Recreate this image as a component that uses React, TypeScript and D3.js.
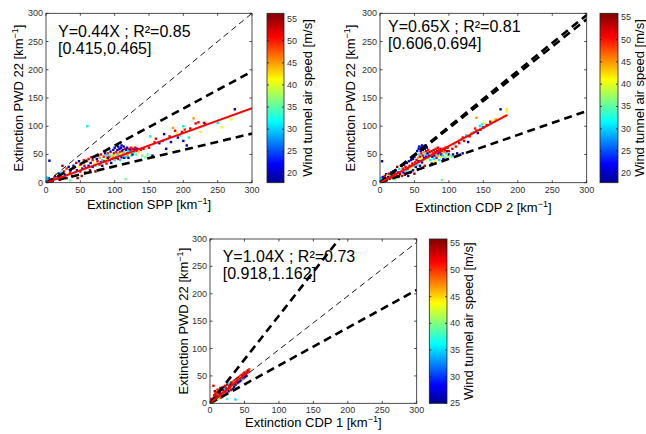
import React from "react";
import * as d3 from "d3";

// axis ticks (km^-1) and colour bar ticks (m/s)
const axisTicks = [0, 50, 100, 150, 200, 250, 300];
const speedTicksA = [20, 25, 30, 35, 40, 45, 50, 55];
const speedTicksB = [25, 30, 35, 40, 45, 50, 55];

// points: [extinction x, extinction PWD 22, wind tunnel air speed]
const sppPoints: number[][] = [
  [1, 3, 20], [2, 5, 22], [3, 2, 18], [1, 7, 30], [4, 4, 25], [2, 1, 20], [5, 3, 19], [3, 6, 31], [6, 2, 21], [0.5, 4, 32],
  [4, 8, 22], [7, 5, 18], [2, 9, 30], [8, 3, 20], [5, 1, 24], [5, 39, 20],
  [10, 6, 52], [12, 9, 50], [14, 12, 19], [15, 7, 55], [16, 14, 42], [18, 10, 50], [19, 16, 20], [20, 5, 54], [21, 12, 52],
  [22, 18, 31], [24, 30, 55], [25, 10, 45], [26, 20, 52], [28, 14, 20], [30, 25, 50], [30, 8, 55], [32, 16, 40], [33, 28, 20],
  [35, 4, 35], [35, 18, 52], [36, 22, 21], [38, 12, 55], [40, 26, 50], [40, 30, 19], [42, 18, 31], [44, 35, 52], [45, 22, 20],
  [46, 8, 55], [48, 28, 41], [48, 38, 20], [50, 20, 55], [50, 32, 52], [52, 12, 53], [53, 25, 19], [55, 36, 31], [55, 40, 50],
  [56, 30, 52], [57, 18, 55], [58, 26, 20], [60, 100, 32], [60, 38, 45], [62, 30, 21], [62, 42, 52], [64, 22, 55], [65, 35, 19],
  [66, 45, 51], [68, 28, 20], [68, 40, 50], [70, 34, 42], [70, 46, 52], [72, 30, 31], [72, 20, 55], [74, 42, 20], [75, 38, 52],
  [76, 48, 19], [78, 32, 50], [78, 44, 45], [80, 36, 21], [80, 50, 52], [82, 40, 31], [82, 30, 19], [84, 46, 50], [85, 38, 55],
  [86, 52, 20], [87, 42, 41], [88, 34, 52], [88, 48, 31], [90, 44, 19], [90, 52, 50], [91, 38, 45], [92, 46, 52], [93, 40, 20],
  [94, 55, 21], [94, 48, 32], [95, 35, 19], [96, 50, 40], [97, 42, 50], [98, 58, 20], [98, 46, 45], [99, 52, 52], [100, 40, 31],
  [100, 62, 19], [101, 48, 42], [102, 54, 50], [102, 44, 20], [103, 66, 19], [104, 50, 30], [104, 58, 20], [105, 42, 52],
  [105, 64, 18], [106, 52, 45], [107, 47, 32], [107, 60, 20], [108, 55, 50], [108, 40, 31], [109, 62, 21], [110, 50, 42],
  [110, 45, 19], [110, 66, 20], [111, 56, 52], [112, 48, 31], [112, 58, 20], [113, 52, 45], [113, 64, 19], [114, 44, 20],
  [114, 55, 32], [115, 60, 52], [115, 50, 40], [116, 6, 36], [116, 46, 30], [117, 58, 19], [118, 52, 50], [118, 62, 20],
  [119, 48, 45], [120, 56, 31], [120, 44, 20], [121, 60, 52], [122, 52, 41], [123, 58, 20], [124, 48, 32], [124, 62, 50],
  [125, 55, 45], [126, 50, 20], [127, 60, 52], [128, 54, 31], [129, 58, 19], [130, 62, 52], [131, 50, 35], [132, 56, 50],
  [133, 60, 21], [135, 54, 42], [138, 58, 50], [140, 48, 36], [142, 60, 52], [145, 45, 36], [148, 50, 35], [150, 62, 51],
  [152, 82, 31], [155, 48, 19], [158, 72, 50], [160, 78, 52], [165, 70, 20], [170, 74, 51], [172, 86, 19], [175, 60, 20],
  [178, 78, 31], [180, 82, 52], [182, 72, 19], [185, 97, 45], [188, 92, 52], [190, 88, 41], [192, 80, 20], [195, 84, 31],
  [198, 90, 52], [200, 100, 31], [200, 74, 20], [202, 94, 50], [205, 66, 20], [208, 80, 31], [210, 96, 52], [215, 114, 45],
  [218, 105, 52], [222, 107, 51], [225, 90, 42], [226, 100, 40], [230, 106, 52], [232, 104, 55], [250, 106, 31], [256, 98, 41],
  [270, 112, 41], [275, 130, 19],
];

const cdp2Points: number[][] = [
  [1, 2, 20], [2, 5, 22], [3, 1, 19], [1, 7, 30], [4, 3, 25], [2, 8, 31], [5, 6, 20], [0.5, 4, 32], [3, 38, 20], [6, 2, 18],
  [4, 10, 22], [7, 12, 52], [8, 8, 50], [9, 15, 20], [10, 5, 55], [11, 13, 42], [12, 10, 19], [13, 16, 52], [14, 7, 55],
  [15, 12, 31], [16, 18, 20], [17, 9, 50], [18, 14, 52], [19, 20, 19], [20, 11, 45], [21, 17, 55], [22, 6, 36], [22, 22, 20],
  [24, 13, 52], [25, 28, 55], [26, 18, 20], [27, 10, 50], [28, 24, 31], [29, 15, 55], [30, 20, 41], [31, 30, 19], [32, 12, 52],
  [33, 25, 50], [34, 18, 20], [35, 32, 21], [36, 14, 55], [37, 28, 52], [38, 20, 31], [39, 35, 19], [40, 24, 50], [41, 12, 20],
  [42, 38, 20], [43, 30, 52], [44, 18, 55], [45, 40, 19], [46, 26, 41], [47, 34, 52], [48, 22, 20], [48, 42, 20], [49, 30, 31],
  [50, 46, 19], [50, 16, 55], [51, 36, 50], [52, 28, 20], [52, 50, 21], [53, 40, 52], [54, 32, 31], [54, 56, 20], [55, 44, 45],
  [55, 24, 55], [56, 60, 19], [56, 38, 20], [57, 50, 31], [57, 64, 20], [58, 46, 52], [58, 30, 21], [59, 56, 20], [59, 42, 41],
  [60, 62, 19], [60, 52, 50], [61, 36, 20], [61, 66, 20], [62, 48, 52], [62, 58, 21], [63, 40, 31], [63, 64, 19], [64, 54, 45],
  [64, 44, 20], [65, 60, 20], [65, 30, 52], [66, 50, 31], [66, 66, 19], [67, 46, 20], [67, 56, 52], [68, 62, 20], [68, 40, 41],
  [69, 52, 19], [70, 58, 50], [70, 44, 32], [71, 48, 20], [72, 54, 52], [73, 40, 31], [74, 50, 45], [75, 56, 52], [75, 34, 55],
  [76, 46, 20], [77, 52, 50], [78, 58, 52], [78, 42, 31], [79, 48, 19], [80, 54, 52], [80, 38, 41], [81, 60, 50], [82, 50, 31],
  [82, 44, 52], [83, 56, 55], [84, 48, 45], [84, 62, 52], [85, 52, 20], [86, 58, 50], [86, 40, 31], [87, 54, 52], [88, 46, 41],
  [88, 60, 52], [89, 50, 20], [90, 5, 36], [90, 56, 50], [91, 48, 31], [92, 60, 52], [92, 42, 20], [93, 54, 45], [94, 58, 52],
  [95, 46, 35], [95, 62, 50], [96, 52, 31], [97, 56, 55], [98, 48, 41], [98, 62, 52], [100, 50, 20], [100, 56, 52], [102, 48, 36],
  [104, 46, 35], [105, 60, 52], [106, 50, 20], [108, 68, 31], [110, 64, 50], [112, 52, 19], [115, 70, 52], [118, 76, 31],
  [120, 80, 51], [120, 52, 20], [122, 74, 52], [125, 84, 31], [128, 72, 19], [130, 82, 52], [133, 88, 45], [136, 90, 31],
  [138, 96, 50], [140, 92, 52], [140, 115, 45], [142, 88, 20], [145, 100, 31], [146, 94, 52], [148, 104, 32], [150, 98, 19],
  [152, 106, 41], [155, 102, 52], [160, 108, 52], [165, 110, 41], [168, 112, 45], [175, 130, 19], [180, 118, 41],
  [184, 126, 41], [184, 130, 42],
];

const cdp1Points: number[][] = [
  [1, 2, 52], [2, 5, 50], [3, 1, 30], [2, 8, 52], [4, 4, 55], [5, 10, 50], [5, 32, 52], [6, 3, 40], [6, 15, 52], [7, 8, 26],
  [7, 22, 55], [8, 12, 50], [8, 18, 52], [9, 6, 35], [9, 14, 55], [10, 20, 52], [10, 10, 26], [11, 16, 50], [11, 25, 52],
  [12, 12, 27], [12, 20, 55], [13, 8, 40], [13, 18, 50], [14, 24, 52], [14, 14, 35], [15, 20, 55], [15, 28, 52], [16, 10, 50],
  [16, 18, 26], [17, 22, 52], [17, 14, 55], [18, 26, 50], [18, 20, 45], [19, 16, 52], [20, 24, 26], [20, 30, 55], [21, 20, 52],
  [22, 26, 35], [22, 32, 52], [23, 22, 50], [24, 28, 26], [24, 18, 52], [25, 8, 38], [25, 34, 55], [26, 26, 50], [26, 30, 42],
  [27, 22, 27], [28, 32, 52], [28, 36, 35], [29, 28, 50], [30, 34, 26], [30, 24, 52], [31, 38, 55], [32, 30, 45], [32, 36, 52],
  [33, 26, 26], [34, 40, 50], [34, 34, 36], [35, 30, 27], [36, 42, 52], [36, 38, 40], [37, 7, 35], [37, 34, 26], [38, 44, 52],
  [38, 40, 36], [39, 36, 50], [40, 46, 55], [40, 42, 35], [41, 38, 26], [42, 48, 52], [42, 44, 45], [43, 40, 27], [44, 50, 50],
  [44, 46, 36], [45, 42, 26], [46, 52, 52], [46, 48, 42], [47, 44, 35], [48, 54, 50], [48, 50, 26], [49, 46, 52], [50, 56, 55],
  [50, 52, 36], [51, 48, 27], [52, 54, 52], [53, 58, 50], [53, 50, 26], [54, 56, 52], [55, 60, 55], [56, 58, 52], [57, 62, 50],
];

// fitted lines, reference lines
const fitSlopes = [0.44, 0.65, 1.04];
const fitEnds = [300, 185, 57];
const thinSlopes = [[1.0], [], [0.98]];
const thickSlopes = [[0.657, 0.29], [0.99, 0.965, 0.423], [1.6, 0.69]];
const speedRanges = [[17.9, 56.2], [17.9, 55.9], [25, 55.8]];
const xLabels = ["Extinction SPP", "Extinction CDP 2", "Extinction CDP 1"];
const fitTexts = ["Y=0.44X ; R²=0.85", "Y=0.65X ; R²=0.81", "Y=1.04X ; R²=0.73"];
const ciTexts = ["[0.415,0.465]", "[0.606,0.694]", "[0.918,1.162]"];

const jetStops = [0, 0.11, 0.36, 0.61, 0.86, 1];
const jetColors = ["#000090", "#0000ff", "#00ffff", "#ffff00", "#ff0000", "#800000"];
const jet = d3.scaleLinear<string>().domain(jetStops).range(jetColors).clamp(true);

const FONT = "'Liberation Sans', Arial, Helvetica, sans-serif";
const INK = "#222";

const layouts = [
  { x0: 46, x1: 252, y0: 13.3, y1: 182.7, cb: 267, cbw: 17, yl: 23, cl: 312, xl: 209, tx: 58, ty: 37 },
  { x0: 380, x1: 586.7, y0: 13.3, y1: 182.7, cb: 600, cbw: 18, yl: 355, cl: 644, xl: 212, tx: 388, ty: 32 },
  { x0: 210, x1: 416.7, y0: 239, y1: 403.3, cb: 429.3, cbw: 17.7, yl: 188, cl: 473, xl: 427, tx: 222.7, ty: 262 },
];

const pointSets = [sppPoints, cdp2Points, cdp1Points];
const speedTickSets = [speedTicksA, speedTicksA, speedTicksB];

function Panel({ i }: { i: number }) {
  const L = layouts[i];
  const x = d3.scaleLinear().domain([0, 300]).range([L.x0, L.x1]);
  const y = d3.scaleLinear().domain([0, 300]).range([L.y1, L.y0]);
  const [smin, smax] = speedRanges[i];
  const c = d3.scaleLinear().domain([smin, smax]).range([0, 1]);
  const cy = d3.scaleLinear().domain([smin, smax]).range([L.y1, L.y0]);
  const line = d3.line<number[]>().x((d) => x(d[0])).y((d) => y(d[1]));
  const ref = (k: number) => {
    const xe = Math.min(300, 300 / k);
    return line([[0, 0], [xe, k * xe]]) as string;
  };
  const midY = (L.y0 + L.y1) / 2;
  const midX = (L.x0 + L.x1) / 2;
  const gid = `jet${i}`;
  return (
    <g fontFamily={FONT}>
      <defs>
        <linearGradient id={gid} x1="0" y1="1" x2="0" y2="0">
          {jetStops.map((s, k) => (
            <stop key={k} offset={s} stopColor={jetColors[k]} />
          ))}
        </linearGradient>
        <clipPath id={`clip${i}`}>
          <rect x={L.x0} y={L.y0} width={L.x1 - L.x0} height={L.y1 - L.y0} />
        </clipPath>
      </defs>
      <rect x={L.x0} y={L.y0} width={L.x1 - L.x0} height={L.y1 - L.y0} fill="#fff" />
      {/* scatter */}
      <g clipPath={`url(#clip${i})`}>
        {pointSets[i].map((d, k) => (
          <rect key={k} x={x(d[0]) - 1.2} y={y(d[1]) - 1.2} width={2.4} height={2.4} fill={jet(c(d[2]))} />
        ))}
      </g>
      {/* annotation */}
      <text x={L.tx} y={L.ty} fontSize={16} fill="#000">{fitTexts[i]}</text>
      <text x={L.tx} y={L.ty + 17} fontSize={16} fill="#000">{ciTexts[i]}</text>
      <g clipPath={`url(#clip${i})`} fill="none" stroke="#000">
        {thinSlopes[i].map((k, j) => (
          <path key={"t" + j} d={ref(k)} strokeWidth={0.9} strokeDasharray="6,4" />
        ))}
        {thickSlopes[i].map((k, j) => (
          <path key={"k" + j} d={ref(k)} strokeWidth={2.6} strokeDasharray="8,5" />
        ))}
        <path d={line([[0, 0], [fitEnds[i], fitSlopes[i] * fitEnds[i]]]) as string} stroke="#ff0000" strokeWidth={2} />
      </g>
      {/* frame and ticks */}
      <rect x={L.x0} y={L.y0} width={L.x1 - L.x0} height={L.y1 - L.y0} fill="none" stroke={INK} strokeWidth={0.8} />
      {axisTicks.map((t) => (
        <g key={t} stroke={INK} strokeWidth={0.8}>
          <line x1={x(t)} x2={x(t)} y1={L.y1} y2={L.y1 - 2.5} />
          <line x1={x(t)} x2={x(t)} y1={L.y0} y2={L.y0 + 2.5} />
          <line x1={L.x0} x2={L.x0 + 2.5} y1={y(t)} y2={y(t)} />
          <line x1={L.x1} x2={L.x1 - 2.5} y1={y(t)} y2={y(t)} />
        </g>
      ))}
      {axisTicks.map((t) => (
        <text key={"xl" + t} x={x(t)} y={L.y1 + 10} fontSize={9} textAnchor="middle" fill="#333">{t}</text>
      ))}
      {axisTicks.map((t) => (
        <text key={"yl" + t} x={L.x0 - 3} y={y(t) + 3} fontSize={9} textAnchor="end" fill="#333">{t}</text>
      ))}
      {/* axis labels */}
      <text x={midX} y={L.xl} fontSize={13} textAnchor="middle" fill="#000">
        {xLabels[i]} [km<tspan dy={-5} fontSize={9}>−1</tspan><tspan dy={5}>]</tspan>
      </text>
      <text transform={`translate(${L.yl},${midY}) rotate(-90)`} fontSize={13} textAnchor="middle" fill="#000">
        Extinction PWD 22 [km<tspan dy={-5} fontSize={9}>−1</tspan><tspan dy={5}>]</tspan>
      </text>
      {/* colour bar */}
      <rect x={L.cb} y={L.y0} width={L.cbw} height={L.y1 - L.y0} fill={`url(#${gid})`} stroke={INK} strokeWidth={0.8} />
      {speedTickSets[i].map((t) => (
        <g key={"c" + t}>
          <line x1={L.cb + L.cbw} x2={L.cb + L.cbw - 2} y1={cy(t)} y2={cy(t)} stroke={INK} strokeWidth={0.8} />
          <line x1={L.cb} x2={L.cb + 2} y1={cy(t)} y2={cy(t)} stroke={INK} strokeWidth={0.8} />
          <text x={L.cb + L.cbw + 3} y={cy(t) + 3} fontSize={9} fill="#333">{t}</text>
        </g>
      ))}
      <text transform={`translate(${L.cl},${midY}) rotate(-90)`} fontSize={13} textAnchor="middle" fill="#000">
        Wind tunnel air speed [m/s]
      </text>
    </g>
  );
}

export default function App() {
  return (
    <svg width={646} height={434} style={{ position: "absolute", left: 0, top: 0, background: "#fff" }}>
      {[0, 1, 2].map((i) => (
        <Panel key={i} i={i} />
      ))}
    </svg>
  );
}
